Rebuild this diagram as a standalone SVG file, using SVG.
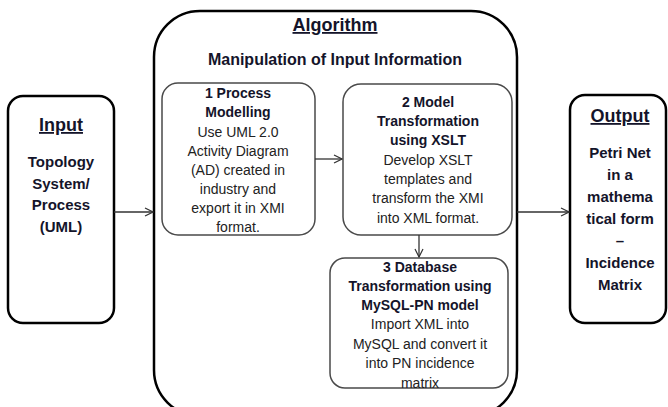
<svg xmlns="http://www.w3.org/2000/svg" width="668" height="407" viewBox="0 0 668 407">
  <defs>
    <marker id="open-arrow" markerWidth="10" markerHeight="10" refX="9" refY="5" orient="auto" markerUnits="userSpaceOnUse">
      <path d="M1,1 L9,5 L1,9" fill="none" stroke="#333" stroke-width="1.2"/>
    </marker>
  </defs>
  <style>
    .outer { fill: #fff; stroke: #000; stroke-width: 2.5; }
    .inner { fill: #fff; stroke: #4a4a4a; stroke-width: 1.5; }
    text { font-family: "Liberation Sans", Arial, sans-serif; text-anchor: middle; fill: #14142a; }
    .head { font-size: 18px; font-weight: bold; text-decoration: underline; }
    .sub { font-size: 16px; font-weight: bold; }
    .side { font-size: 15px; font-weight: bold; }
    .step { font-size: 14px; font-weight: bold; }
    .body { font-size: 14px; fill: #222; }
    .conn { fill: none; stroke: #333; stroke-width: 1.3; marker-end: url(#open-arrow); }
  </style>

  <rect width="668" height="407" fill="#fff"/>

  <!-- Algorithm container -->
  <g id="algorithm">
    <rect class="outer" x="154" y="11" width="363" height="405" rx="46" ry="46"/>
    <text class="head" x="335" y="31">Algorithm</text>
    <text class="sub" x="335" y="65">Manipulation of Input Information</text>
  </g>

  <!-- Input -->
  <g id="input">
    <rect class="outer" x="8" y="96" width="106" height="227" rx="15" ry="15"/>
    <text class="head" x="61" y="131">Input</text>
    <text class="side" x="61" y="167">Topology</text>
    <text class="side" x="61" y="189">System/</text>
    <text class="side" x="61" y="210">Process</text>
    <text class="side" x="61" y="232">(UML)</text>
  </g>

  <!-- Output -->
  <g id="output">
    <rect class="outer" x="570" y="95" width="96" height="228" rx="15" ry="15"/>
    <text class="head" x="620" y="122">Output</text>
    <text class="side" x="620" y="158">Petri Net</text>
    <text class="side" x="620" y="180">in a</text>
    <text class="side" x="620" y="202">mathema</text>
    <text class="side" x="620" y="224">tical form</text>
    <text class="side" x="620" y="246">–</text>
    <text class="side" x="620" y="268">Incidence</text>
    <text class="side" x="620" y="290">Matrix</text>
  </g>

  <!-- Step 1 -->
  <g id="step1">
    <rect class="inner" x="162" y="83" width="153" height="152" rx="16" ry="16"/>
    <text class="step" x="238" y="98">1 Process</text>
    <text class="step" x="238" y="117">Modelling</text>
    <text class="body" x="238" y="137">Use UML 2.0</text>
    <text class="body" x="238" y="156">Activity Diagram</text>
    <text class="body" x="238" y="175">(AD) created in</text>
    <text class="body" x="238" y="194">industry and</text>
    <text class="body" x="238" y="213">export it in XMI</text>
    <text class="body" x="238" y="232">format.</text>
  </g>

  <!-- Step 2 -->
  <g id="step2">
    <rect class="inner" x="343" y="84" width="169" height="151" rx="18" ry="18"/>
    <text class="step" x="428" y="107">2 Model</text>
    <text class="step" x="428" y="126">Transformation</text>
    <text class="step" x="428" y="145">using XSLT</text>
    <text class="body" x="428" y="165">Develop XSLT</text>
    <text class="body" x="428" y="184">templates and</text>
    <text class="body" x="428" y="203">transform the XMI</text>
    <text class="body" x="428" y="223">into XML format.</text>
  </g>

  <!-- Step 3 -->
  <g id="step3">
    <rect class="inner" x="330" y="258" width="178" height="130" rx="15" ry="15"/>
    <text class="step" x="420" y="272">3 Database</text>
    <text class="step" x="420" y="291">Transformation using</text>
    <text class="step" x="420" y="310">MySQL-PN model</text>
    <text class="body" x="420" y="329">Import XML into</text>
    <text class="body" x="420" y="349">MySQL and convert it</text>
    <text class="body" x="420" y="368">into PN incidence</text>
    <text class="body" x="420" y="388">matrix</text>
  </g>

  <!-- Connectors -->
  <g id="connectors">
    <line class="conn" x1="114" y1="212" x2="153" y2="212"/>
    <line class="conn" x1="315" y1="159" x2="342" y2="159"/>
    <line class="conn" x1="419" y1="235" x2="419" y2="257"/>
    <line class="conn" x1="517" y1="212" x2="569" y2="212"/>
  </g>
</svg>
